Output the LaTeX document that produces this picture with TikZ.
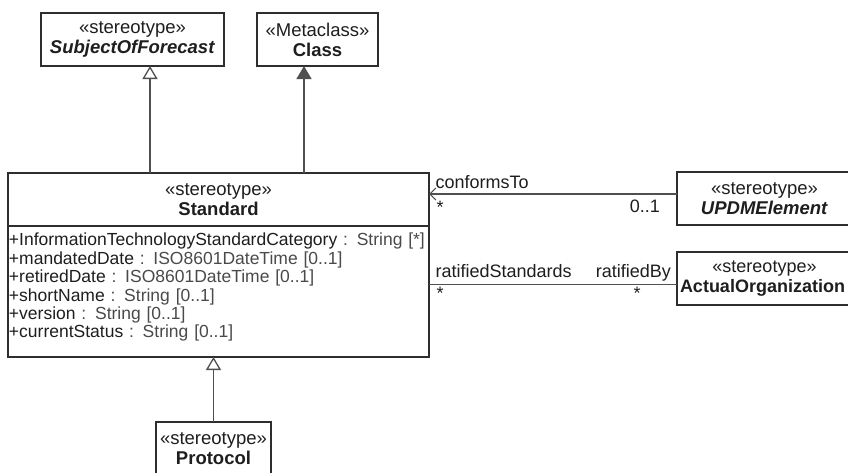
\documentclass[tikz,border=0pt]{standalone}
\usepackage{fontspec}
\setmainfont{Liberation Sans}
\usetikzlibrary{arrows.meta,positioning}

\definecolor{rahmen}{HTML}{2E2E2E}
\definecolor{linie}{HTML}{505050}
\definecolor{schrift}{HTML}{1E1E1E}
\definecolor{typ}{HTML}{4A4A4A}

\newcommand{\attr}[2]{+#1 {\color{typ}: #2}}

\tikzset{
    klasse/.style={draw=rahmen, line width=1.3pt, fill=white, text=schrift,
        align=center, inner sep=0pt, outer sep=0pt, minimum height=53pt, anchor=north west,
        font=\fontsize{18.5}{20}\selectfont},
    erbt/.style={draw=linie, line width=1.3pt, -{Triangle[open, length=13pt, width=15pt]}},
    metaerbt/.style={draw=linie, line width=1.3pt, -{Triangle[length=13pt, width=15pt]}},
    assoz/.style={draw=linie, line width=1.1pt},
    rolle/.style={text=schrift, inner sep=0pt, font=\fontsize{18}{20}\selectfont}
}

\begin{document}
\begin{tikzpicture}[x=1pt, y=-1pt]
    \useasboundingbox[fill=white] (0,0) rectangle (848,472);
    % obere Klassen:
    \node[klasse, minimum width=183pt] (sof) at (41,13) {«stereotype»\\\textbf{\textit{SubjectOfForecast}}};
    \node[klasse, minimum width=121pt] (cls) at (257,13) {«Metaclass»\\\textbf{Class}};
    % Standard mit Attributen:
    \node[klasse, minimum width=421pt] (std) at (8,173) {«stereotype»\\\textbf{Standard}};
    \node[klasse, minimum width=421pt, minimum height=131pt, text width=419pt, inner xsep=1pt, align=left,
        font=\fontsize{17.5}{18.4}\selectfont] (stdattr) at (std.south west) {%
        \attr{InformationTechnologyStandardCategory}{String [*]}\\
        \attr{mandatedDate}{ISO8601DateTime [0..1]}\\
        \attr{retiredDate}{ISO8601DateTime [0..1]}\\
        \attr{shortName}{String [0..1]}\\
        \attr{version}{String [0..1]}\\
        \attr{currentStatus}{String [0..1]}\rule[-12pt]{0pt}{12pt}};
    % rechte Klassen:
    \node[klasse, minimum width=175pt] (upd) at (677,172) {«stereotype»\\\textbf{\textit{UPDMElement}}};
    \node[klasse, minimum width=175pt, font=\fontsize{18}{20}\selectfont] (org) at (677,252)
        {«stereotype»\\\textbf{ActualOrganization}\hspace*{4pt}};
    % untere Klasse:
    \node[klasse, minimum width=115pt] (prot) at (156,422) {«stereotype»\\\textbf{Protocol}};

    % Generalisierungen:
    \draw[erbt] ([xshift=17.5pt]sof.south |- std.north) -- ([xshift=17.5pt]sof.south); % SubjectOfForecast
    \draw[metaerbt] ([xshift=-13.5pt]cls.south |- std.north) -- ([xshift=-13.5pt]cls.south); % Class
    \draw[erbt] (prot.north) -- (prot.north |- stdattr.south); % Protocol

    % Assoziationen:
    \draw[assoz, -{Straight Barb[length=6pt, width=12pt]}] ([yshift=4.5pt]upd.west) -- ([yshift=4.5pt]upd.west -| std.east)
        node[rolle, anchor=base west, xshift=6pt, yshift=6pt] (ct) {conformsTo}
        node[rolle, xshift=11pt, yshift=-13pt] (ctstern) {*};
    \node[rolle, anchor=base east, xshift=-17pt, yshift=-18pt] (ctmult) at ([yshift=4.5pt]upd.west) {0..1};
    \draw[assoz] ([yshift=-6pt]org.west) -- ([yshift=-6pt]org.west -| std.east)
        node[rolle, anchor=base west, xshift=6pt, yshift=7.5pt] (rs) {ratifiedStandards}
        node[rolle, xshift=11pt, yshift=-9pt] (rsstern) {*};
    \node[rolle, anchor=base east, xshift=-6pt, yshift=7.5pt] (rb) at ([yshift=-6pt]org.west) {ratifiedBy};
    \node[rolle, xshift=-40pt, yshift=-9pt] (rbstern) at ([yshift=-6pt]org.west) {*};
\end{tikzpicture}
\end{document}
